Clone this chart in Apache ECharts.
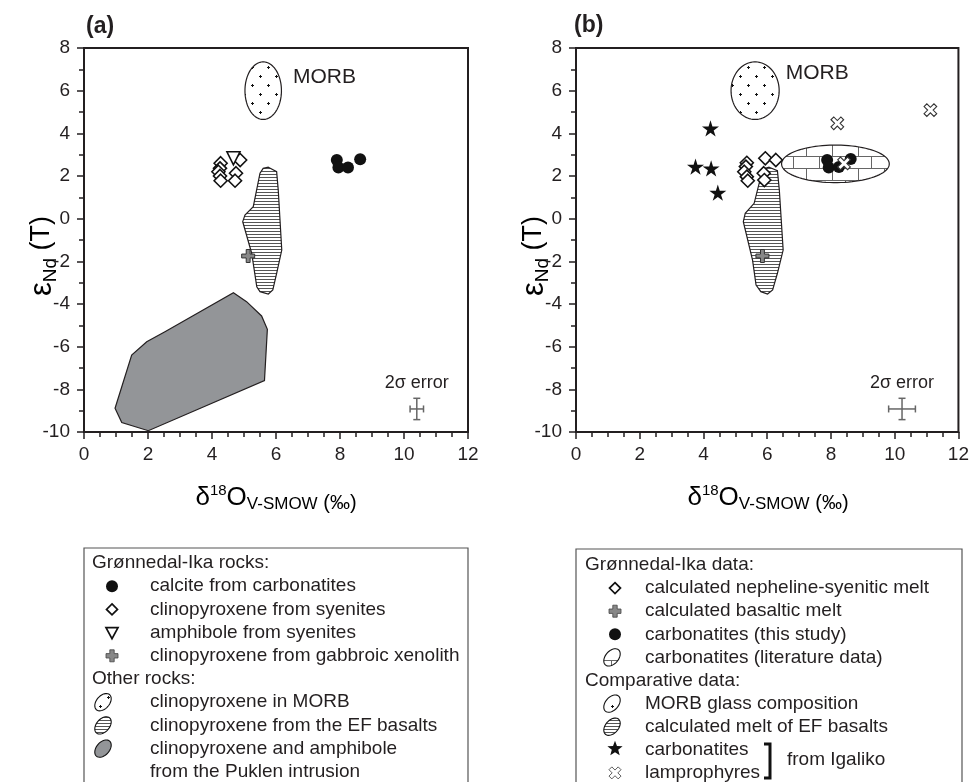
<!DOCTYPE html>
<html>
<head>
<meta charset="utf-8">
<script src="https://cdn.jsdelivr.net/npm/echarts@6/dist/echarts.min.js"></script>
<style>
html, body { margin: 0; padding: 0; background: #fff; }
#chart { width: 972px; height: 782px; }
</style>
</head>
<body>
<div id="chart"></div>
<script>
// ---------- panel (a): minerals ----------
const calciteA = [[7.90, 2.75], [7.95, 2.40], [8.25, 2.40], [8.63, 2.78]];
const cpxSyeniteA = [[4.27, 2.60], [4.25, 2.36], [4.20, 2.20], [4.25, 2.00], [4.27, 1.78],
                     [4.75, 2.13], [4.72, 1.78], [4.88, 2.75]];
const amphSyeniteA = [[4.67, 2.83]];
const cpxGabbroA = [[5.13, -1.75]];
const morbA = [5.60, 6.00, 0.57, 1.35]; // cx, cy, rx, ry
const efBasaltA = [[5.76, 2.41], [6.02, 2.20], [6.07, 1.34], [6.18, -1.47], [6.02, -2.56],
                   [5.90, -3.34], [5.76, -3.53], [5.50, -3.42], [5.40, -3.19], [5.24, -1.62],
                   [4.96, -0.14], [5.03, 0.17], [5.29, 0.56], [5.50, 2.13], [5.60, 2.36]];
const puklenA = [[4.67, -3.47], [5.08, -3.89], [5.55, -4.56], [5.73, -5.19], [5.64, -7.59],
                 [2.01, -9.94], [1.18, -9.56], [0.97, -8.89], [1.49, -6.39], [1.96, -5.77],
                 [2.53, -5.30]];
const errorA = [10.40, -8.92, 0.21, 0.50]; // x, y, dx, dy

// ---------- panel (b): melts ----------
const nephMeltB = [[5.36, 2.62], [5.33, 2.44], [5.28, 2.20], [5.36, 1.97], [5.39, 1.78],
                   [5.94, 2.83], [6.27, 2.75], [5.89, 2.13], [5.91, 1.81]];
const basaltMeltB = [[5.85, -1.75]];
const carbThisB = [[7.88, 2.75], [7.93, 2.40], [8.25, 2.42], [8.62, 2.80]];
const carbLitB = [8.14, 2.57, 1.69, 0.88];
const morbB = [5.62, 6.00, 0.755, 1.35];
const efMeltB = [[6.06, 2.41], [6.32, 2.25], [6.38, 1.34], [6.50, -1.47], [6.32, -2.56],
                 [6.17, -3.34], [6.01, -3.53], [5.80, -3.42], [5.65, -3.11], [5.54, -1.94],
                 [5.25, -0.14], [5.31, 0.25], [5.59, 0.72], [5.80, 1.97], [5.94, 2.36]];
const igalikoCarbB = [[4.22, 4.23], [3.75, 2.44], [4.24, 2.36], [4.45, 1.22]];
const igalikoLampB = [[8.20, 4.47], [11.12, 5.09], [8.41, 2.59]];
const errorB = [10.23, -8.92, 0.42, 0.50];

// annotation anchors [x, y]
const morbLabelA = [6.53, 6.65];
const morbLabelB = [6.58, 6.81];
const errLabelA = [10.40, -7.70];
const errLabelB = [10.23, -7.70];

// legend rows: [symbol, text]
const legendA = [
  ['h', 'Grønnedal-Ika rocks:'],
  ['circle', 'calcite from carbonatites'],
  ['diamond', 'clinopyroxene from syenites'],
  ['triangle', 'amphibole from syenites'],
  ['plus', 'clinopyroxene from gabbroic xenolith'],
  ['h', 'Other rocks:'],
  ['dots', 'clinopyroxene in MORB'],
  ['hatch', 'clinopyroxene from the EF basalts'],
  ['gray', 'clinopyroxene and amphibole'],
  ['', 'from the Puklen intrusion']
];
const legendB = [
  ['h', 'Grønnedal-Ika data:'],
  ['diamond', 'calculated nepheline-syenitic melt'],
  ['plus', 'calculated basaltic melt'],
  ['circle', 'carbonatites (this study)'],
  ['brick', 'carbonatites (literature data)'],
  ['h', 'Comparative data:'],
  ['dots', 'MORB glass composition'],
  ['hatch', 'calculated melt of EF basalts'],
  ['star', 'carbonatites'],
  ['x', 'lamprophyres']
];

const FONT = '"Liberation Sans", Arial, Helvetica, sans-serif';
const INK = '#231f20';
const GRAY = '#939598';

// fill patterns
function makePattern(w, h, draw) {
  const c = document.createElement('canvas');
  c.width = w; c.height = h;
  const ctx = c.getContext('2d');
  ctx.fillStyle = '#fff';
  ctx.fillRect(0, 0, w, h);
  draw(ctx);
  return { image: c, repeat: 'repeat' };
}
const hatchFill = makePattern(4, 3, ctx => {
  ctx.fillStyle = '#555';
  ctx.fillRect(0, 0, 4, 1);
});
const dotsFill = makePattern(16, 18, ctx => {
  ctx.fillStyle = '#111';
  [[4, 4], [12, 13]].forEach(([x, y]) => {
    ctx.fillRect(x - 1, y, 3, 1);
    ctx.fillRect(x, y - 1, 1, 3);
  });
});
const brickFill = makePattern(26, 24, ctx => {
  ctx.fillStyle = '#666';
  ctx.fillRect(0, 0, 26, 1);
  ctx.fillRect(0, 12, 26, 1);
  ctx.fillRect(0, 0, 1, 12);
  ctx.fillRect(13, 12, 1, 12);
});

const PLUS = 'path://M3.5,0 H6.5 V3.5 H10 V6.5 H6.5 V10 H3.5 V6.5 H0 V3.5 H3.5 Z';
const XMARK = 'path://M3.6,0 H6.4 V3.6 H10 V6.4 H6.4 V10 H3.6 V6.4 H0 V3.6 H3.6 Z';
const STAR = 'path://M50,0 L61,35 L98,35 L68,57 L79,91 L50,70 L21,91 L32,57 L2,35 L39,35 Z';

function polySeries(idx, pts, style) {
  return {
    type: 'custom', xAxisIndex: idx, yAxisIndex: idx, silent: true, z: 1,
    data: [pts[0]],
    renderItem: (params, api) => ({
      type: 'polygon',
      shape: { points: pts.map(p => api.coord(p)) },
      style: style
    })
  };
}
function ellipseSeries(idx, e, fill) {
  return {
    type: 'custom', xAxisIndex: idx, yAxisIndex: idx, silent: true, z: 1,
    data: [[e[0], e[1]]],
    renderItem: (params, api) => {
      const c = api.coord([e[0], e[1]]);
      const s = api.size([e[2], e[3]]);
      const pts = [];
      for (let i = 0; i < 90; i++) {
        const t = i / 90 * Math.PI * 2;
        pts.push([c[0] + s[0] * Math.cos(t), c[1] + s[1] * Math.sin(t)]);
      }
      return { type: 'polygon', shape: { points: pts }, style: { fill: fill, stroke: INK, lineWidth: 1.2 } };
    }
  };
}
function errorSeries(idx, e) {
  return {
    type: 'custom', xAxisIndex: idx, yAxisIndex: idx, silent: true, z: 3,
    data: [[e[0], e[1]]],
    renderItem: (params, api) => {
      const c = api.coord([e[0], e[1]]);
      const s = api.size([e[2], e[3]]);
      const st = { stroke: '#666', lineWidth: 1.5 };
      const ln = (x1, y1, x2, y2) => ({ type: 'line', shape: { x1, y1, x2, y2 }, style: st });
      return {
        type: 'group',
        children: [
          ln(c[0] - s[0], c[1], c[0] + s[0], c[1]),
          ln(c[0], c[1] - s[1], c[0], c[1] + s[1]),
          ln(c[0] - s[0], c[1] - 3.5, c[0] - s[0], c[1] + 3.5),
          ln(c[0] + s[0], c[1] - 3.5, c[0] + s[0], c[1] + 3.5),
          ln(c[0] - 3.5, c[1] - s[1], c[0] + 3.5, c[1] - s[1]),
          ln(c[0] - 3.5, c[1] + s[1], c[0] + 3.5, c[1] + s[1])
        ]
      };
    }
  };
}
function textSeries(idx, pos, text, size, align) {
  return {
    type: 'custom', xAxisIndex: idx, yAxisIndex: idx, silent: true, z: 4,
    data: [pos],
    renderItem: (params, api) => {
      const c = api.coord(pos);
      return {
        type: 'text', x: c[0], y: c[1],
        style: { text: text, fontSize: size, fontFamily: FONT, fill: INK, align: align, verticalAlign: 'middle' }
      };
    }
  };
}
function scatter(idx, data, symbol, size, fill, stroke, lw, extra) {
  return Object.assign({
    type: 'scatter', xAxisIndex: idx, yAxisIndex: idx, data: data, silent: true,
    symbol: symbol, symbolSize: size, symbolKeepAspect: true, z: 3,
    itemStyle: { color: fill, borderColor: stroke, borderWidth: lw, opacity: 1 }
  }, extra || {});
}

// axes
const grids = [
  { left: 84, top: 48, width: 384, height: 384 },
  { left: 576, top: 48, width: 384, height: 384 }
].map(g => Object.assign(g, { show: true, borderColor: INK, borderWidth: 2, backgroundColor: 'transparent' }));

const tickStyle = { color: INK, width: 1.5 };
const xAxes = [0, 1].map(i => ({
  type: 'value', gridIndex: i, min: 0, max: 12, interval: 2,
  axisLine: { onZero: false, lineStyle: { color: INK, width: 2 } },
  axisTick: { show: true, inside: false, length: 7, lineStyle: tickStyle },
  minorTick: { show: true, splitNumber: 4, length: 5, lineStyle: tickStyle },
  splitLine: { show: false },
  axisLabel: { fontSize: 19, color: INK, fontFamily: FONT, margin: 13 }
}));
const yAxes = [0, 1].map(i => ({
  type: 'value', gridIndex: i, min: -10, max: 8, interval: 2,
  axisLine: { onZero: false, lineStyle: { color: INK, width: 2 } },
  axisTick: { show: true, inside: false, length: 7, lineStyle: tickStyle },
  minorTick: { show: true, splitNumber: 2, length: 5, lineStyle: tickStyle },
  splitLine: { show: false },
  axisLabel: { fontSize: 19, color: INK, fontFamily: FONT, margin: 14 }
}));

// legend graphics
function ellipsePts(cx, cy, rx, ry, rot) {
  const pts = [];
  for (let i = 0; i < 40; i++) {
    const t = i / 40 * Math.PI * 2;
    const x = rx * Math.cos(t), y = ry * Math.sin(t);
    pts.push([cx + x * Math.cos(rot) - y * Math.sin(rot), cy + x * Math.sin(rot) + y * Math.cos(rot)]);
  }
  return pts;
}
function starPts(cx, cy, r) {
  const pts = [];
  for (let i = 0; i < 10; i++) {
    const a = -Math.PI / 2 + i * Math.PI / 5;
    const rr = i % 2 ? r * 0.42 : r;
    pts.push([cx + rr * Math.cos(a), cy + rr * Math.sin(a)]);
  }
  return pts;
}
function plusPts(cx, cy, r, w, rot) {
  const base = [[-w, -r], [w, -r], [w, -w], [r, -w], [r, w], [w, w], [w, r], [-w, r], [-w, w], [-r, w], [-r, -w], [-w, -w]];
  return base.map(([x, y]) => [cx + x * Math.cos(rot) - y * Math.sin(rot), cy + x * Math.sin(rot) + y * Math.cos(rot)]);
}
function legendIcon(kind, x, y, ex) {
  const poly = (points, style) => ({ type: 'polygon', shape: { points }, style });
  const ell = ellipsePts(ex, y, 10, 6.5, -0.85);
  switch (kind) {
    case 'circle': return { type: 'circle', shape: { cx: x, cy: y, r: 6 }, style: { fill: '#111' } };
    case 'diamond': return poly([[x, y - 5.5], [x + 5.5, y], [x, y + 5.5], [x - 5.5, y]], { fill: '#fff', stroke: '#111', lineWidth: 1.7 });
    case 'triangle': return poly([[x - 6, y - 5], [x + 6, y - 5], [x, y + 6]], { fill: '#fff', stroke: '#111', lineWidth: 1.7 });
    case 'plus': return poly(plusPts(x, y, 6, 2.2, 0), { fill: '#888', stroke: '#444', lineWidth: 0.8 });
    case 'star': return poly(starPts(x, y - 1, 8), { fill: '#111' });
    case 'x': return poly(plusPts(x, y, 6.5, 2, Math.PI / 4), { fill: '#fff', stroke: '#333', lineWidth: 0.8 });
    case 'dots': return poly(ell, { fill: dotsFill, stroke: '#111', lineWidth: 1.1 });
    case 'hatch': return poly(ell, { fill: hatchFill, stroke: '#111', lineWidth: 1.1 });
    case 'gray': return poly(ell, { fill: GRAY, stroke: '#111', lineWidth: 1.1 });
    case 'brick': return poly(ell, { fill: brickFill, stroke: '#111', lineWidth: 1.1 });
  }
  return null;
}
function legendBox(rows, box, hx, sx, ex, tx, y0, dy) {
  const els = [{ type: 'rect', shape: box, style: { fill: '#fff', stroke: '#555', lineWidth: 1.2 } }];
  rows.forEach(([kind, text], i) => {
    const y = y0 + i * dy;
    els.push({
      type: 'text', x: kind === 'h' ? hx : tx, y: y,
      style: { text: text, fontSize: 19, fontFamily: FONT, fill: INK, verticalAlign: 'middle' }
    });
    const icon = legendIcon(kind, sx, y, ex);
    if (icon) els.push(icon);
  });
  return els;
}

const supRich = {
  d: { fontSize: 26, fontFamily: FONT, color: INK, lineHeight: 30 },
  sup: { fontSize: 15, fontFamily: FONT, color: INK, verticalAlign: 'top', lineHeight: 18 },
  sub: { fontSize: 17, fontFamily: FONT, color: INK, verticalAlign: 'bottom', lineHeight: 20 },
  p: { fontSize: 20, fontFamily: FONT, color: INK, verticalAlign: 'bottom', lineHeight: 22 }
};
const yRich = {
  e: { fontSize: 31, fontFamily: FONT, color: INK, lineHeight: 36 },
  sub: { fontSize: 19, fontFamily: FONT, color: INK, verticalAlign: 'bottom', lineHeight: 22 },
  t: { fontSize: 27, fontFamily: FONT, color: INK, lineHeight: 36 }
};
const xTitle = '{d|δ}{sup|18}{d|O}{sub|V-SMOW}{p| (‰)}';
const yTitle = '{e|ε}{sub|Nd}{t| (T)}';

const graphics = [
  { type: 'text', x: 86, y: 27, style: { text: '(a)', fontSize: 23, fontWeight: 'bold', fontFamily: FONT, fill: INK, verticalAlign: 'middle' } },
  { type: 'text', x: 574, y: 26, style: { text: '(b)', fontSize: 23, fontWeight: 'bold', fontFamily: FONT, fill: INK, verticalAlign: 'middle' } },
  { type: 'text', x: 276, y: 498, style: { text: xTitle, rich: supRich, align: 'center', verticalAlign: 'middle' } },
  { type: 'text', x: 768, y: 498, style: { text: xTitle, rich: supRich, align: 'center', verticalAlign: 'middle' } },
  { type: 'text', x: 42, y: 256, rotation: Math.PI / 2, style: { text: yTitle, rich: yRich, align: 'center', verticalAlign: 'middle' } },
  { type: 'text', x: 534, y: 256, rotation: Math.PI / 2, style: { text: yTitle, rich: yRich, align: 'center', verticalAlign: 'middle' } }
]
  .concat(legendBox(legendA, { x: 84, y: 548, width: 384, height: 260 }, 92, 112, 103, 150, 563, 23.2))
  .concat(legendBox(legendB, { x: 576, y: 549, width: 386, height: 260 }, 585, 615, 612, 645, 565, 23.1))
  .concat([
    { type: 'polyline', shape: { points: [[764, 744], [770, 744], [770, 778], [764, 778]] }, style: { stroke: '#111', lineWidth: 3, fill: null } },
    { type: 'text', x: 787, y: 760, style: { text: 'from Igaliko', fontSize: 19, fontFamily: FONT, fill: INK, verticalAlign: 'middle' } }
  ]);

const chart = echarts.init(document.getElementById('chart'));
chart.setOption({
  animation: false,
  backgroundColor: '#fff',
  grid: grids,
  xAxis: xAxes,
  yAxis: yAxes,
  graphic: graphics,
  series: [
    // panel (a)
    polySeries(0, puklenA, { fill: GRAY, stroke: INK, lineWidth: 1.2 }),
    polySeries(0, efBasaltA, { fill: hatchFill, stroke: INK, lineWidth: 1.2 }),
    ellipseSeries(0, morbA, dotsFill),
    scatter(0, cpxSyeniteA, 'diamond', 13, '#fff', '#111', 1.6),
    scatter(0, amphSyeniteA, 'triangle', 13, '#fff', '#111', 1.6, { symbolRotate: 180 }),
    scatter(0, calciteA, 'circle', 12, '#111', '#111', 0),
    scatter(0, cpxGabbroA, PLUS, 13, '#888', '#333', 1),
    errorSeries(0, errorA),
    textSeries(0, morbLabelA, 'MORB', 21, 'left'),
    textSeries(0, errLabelA, '2σ error', 18, 'center'),
    // panel (b)
    polySeries(1, efMeltB, { fill: hatchFill, stroke: INK, lineWidth: 1.2 }),
    ellipseSeries(1, morbB, dotsFill),
    ellipseSeries(1, carbLitB, brickFill),
    scatter(1, nephMeltB, 'diamond', 13, '#fff', '#111', 1.6),
    scatter(1, basaltMeltB, PLUS, 13, '#888', '#333', 1),
    scatter(1, carbThisB, 'circle', 12, '#111', '#111', 0),
    scatter(1, igalikoCarbB, STAR, 17, '#111', '#111', 0),
    scatter(1, igalikoLampB, XMARK, 14, '#fff', '#333', 1.1, { symbolRotate: 45 }),
    errorSeries(1, errorB),
    textSeries(1, morbLabelB, 'MORB', 21, 'left'),
    textSeries(1, errLabelB, '2σ error', 18, 'center')
  ]
});
</script>
</body>
</html>
